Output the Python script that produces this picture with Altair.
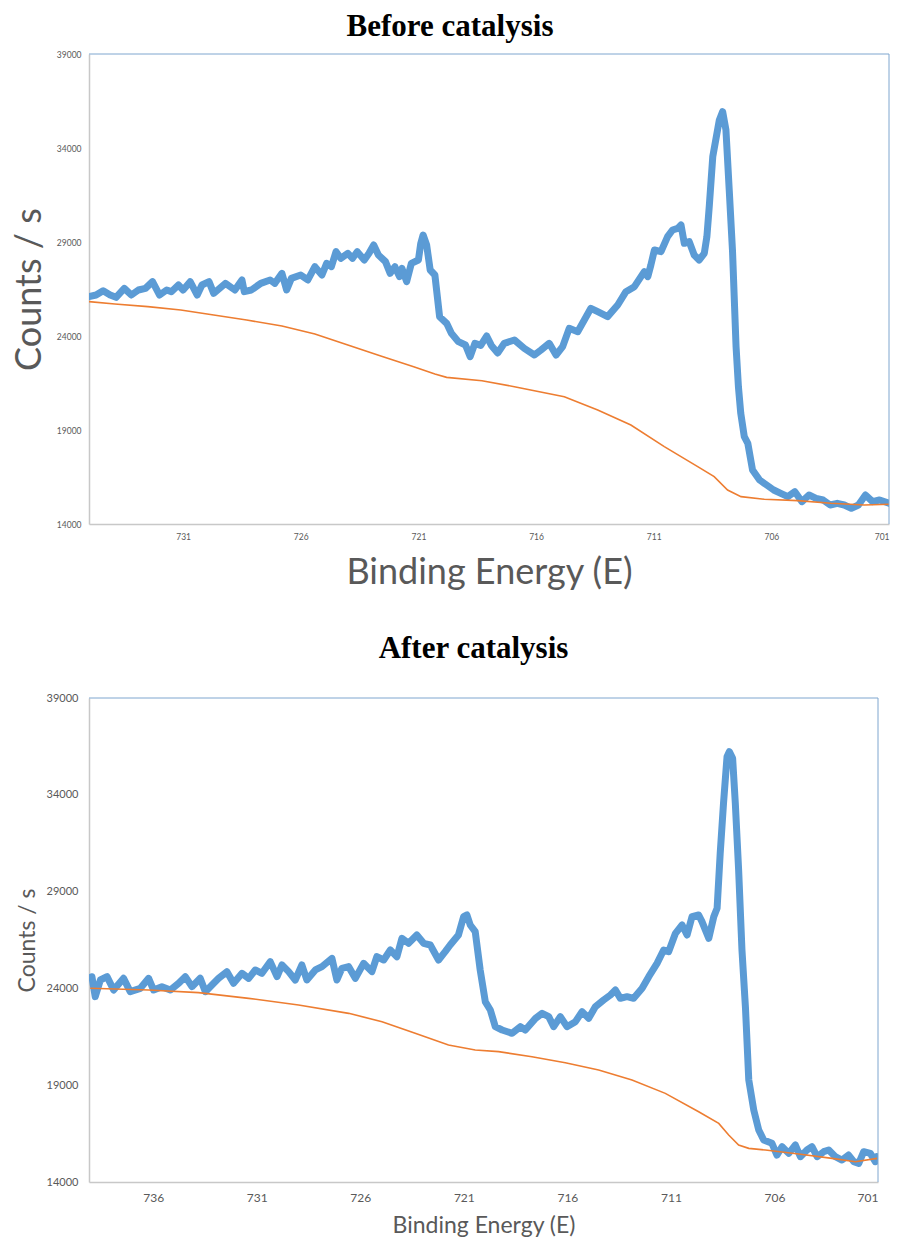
import altair as alt
import pandas as pd

# ---------------- Before catalysis ----------------
before_energy = [735.0, 734.7, 734.4, 734.1, 733.85, 733.5, 733.2, 732.9, 732.6, 732.3,
                 732.0, 731.7, 731.5, 731.2, 731.0, 730.7, 730.4, 730.2, 729.9, 729.7,
                 729.2, 728.8, 728.5, 728.4, 728.1, 727.7, 727.3, 727.1, 726.8, 726.6,
                 726.4, 726.0, 725.7, 725.4, 725.1, 724.9, 724.7, 724.5, 724.3, 724.0,
                 723.8, 723.6, 723.3, 723.1, 722.9, 722.7, 722.4, 722.2, 722.0, 721.8,
                 721.7, 721.5, 721.3, 721.0, 720.9, 720.8, 720.65, 720.5, 720.3, 720.1,
                 719.8, 719.6, 719.3, 719.0, 718.8, 718.6, 718.35, 718.1, 717.9, 717.63,
                 717.35, 716.92, 716.5, 716.07, 715.79, 715.44, 715.15, 714.87, 714.59, 714.23,
                 713.95, 713.67, 713.38, 712.96, 712.53, 712.18, 711.82, 711.4, 711.25, 711.12,
                 710.97, 710.69, 710.41, 710.2, 709.98, 709.84, 709.7, 709.49, 709.28, 709.07,
                 708.85, 708.74, 708.64, 708.49, 708.21, 708.07, 707.93, 707.79, 707.65, 707.5,
                 707.4, 707.3, 707.15, 707.0, 706.8, 706.5, 706.2, 705.9, 705.6, 705.3,
                 705.0, 704.7, 704.4, 704.1, 703.8, 703.5, 703.2, 702.9, 702.6, 702.3,
                 702.0, 701.7, 701.4, 701.0]
before_counts = [26092, 26180, 26410, 26180, 26057, 26535, 26180, 26447, 26535, 26890,
                 26180, 26447, 26358, 26713, 26447, 26890, 26180, 26713, 26890, 26270,
                 26801, 26447, 26980, 26358, 26447, 26801, 26980, 26801, 27333, 26447,
                 27067, 27244, 26980, 27688, 27244, 27865, 27688, 28486, 28131, 28397,
                 28131, 28486, 28042, 28397, 28840, 28308, 27954, 27333, 27688, 27156,
                 27599, 26890, 27865, 28042, 28929, 29372, 28840, 27510, 27244, 25028,
                 24674, 24142, 23699, 23521, 22901, 23610, 23500, 24000, 23500, 23100,
                 23610, 23788, 23344, 22990, 23256, 23610, 22990, 23433, 24408, 24231,
                 24851, 25472, 25295, 25029, 25649, 26359, 26624, 27422, 27156, 27777,
                 28575, 28486, 29284, 29639, 29727, 29905, 28929, 29018, 28309, 28043,
                 28400, 29284, 30880, 33540, 35490, 35933, 34958, 31767, 28500, 23433,
                 21305, 19887, 18646, 18291, 16873, 16341, 16075, 15809, 15632, 15454,
                 15720, 15188, 15543, 15365, 15277, 15011, 15100, 15011, 14834, 15011,
                 15543, 15188, 15277, 15100]
before_bg_energy = [735.0, 733.9, 732.5, 731.1, 729.7, 728.3, 726.8, 725.4, 724.0, 722.6,
                    721.2, 720.3, 719.8, 718.3, 716.92, 714.8, 713.38, 711.97, 710.55, 709.13,
                    708.43, 707.86, 707.29, 706.3, 704.88, 703.47, 702.05, 701.0]
before_bg_counts = [25826, 25702, 25560, 25383, 25117, 24851, 24532, 24106, 23521, 22936,
                    22369, 21979, 21801, 21620, 21305, 20774, 20064, 19266, 18114, 17050,
                    16518, 15809, 15454, 15313, 15242, 15100, 15011, 15050]

# ---------------- After catalysis ----------------
after_energy = [738.96, 738.8, 738.55, 738.23, 737.91, 737.43, 737.11, 736.62, 736.22, 735.98,
                735.58, 735.17, 734.77, 734.45, 734.13, 733.73, 733.48, 733.08, 732.84, 732.44,
                732.12, 731.71, 731.39, 731.07, 730.75, 730.35, 730.02, 729.78, 729.46, 729.14,
                728.82, 728.58, 728.17, 727.85, 727.37, 727.13, 726.89, 726.56, 726.24, 725.84,
                725.44, 725.2, 724.87, 724.55, 724.23, 723.99, 723.67, 723.27, 722.94, 722.62,
                722.22, 721.9, 721.66, 721.26, 721.01, 720.85, 720.69, 720.45, 720.21, 719.96,
                719.72, 719.48, 719.15, 718.67, 718.27, 718.03, 717.54, 717.22, 716.9, 716.66,
                716.34, 716.02, 715.61, 715.29, 714.97, 714.65, 714.25, 713.92, 713.68, 713.44,
                713.12, 712.8, 712.39, 712.07, 711.67, 711.35, 711.11, 710.78, 710.46, 710.22,
                709.98, 709.66, 709.5, 709.17, 708.93, 708.77, 708.62, 708.46, 708.29, 708.18,
                708.02, 707.89, 707.73, 707.57, 707.4, 707.24, 707.0, 706.76, 706.52, 706.12,
                705.88, 705.63, 705.31, 704.99, 704.75, 704.43, 704.19, 703.94, 703.62, 703.38,
                703.06, 702.74, 702.42, 702.17, 701.93, 701.69, 701.37, 701.13, 701.05]
after_counts = [24606, 23573, 24434, 24606, 23917, 24520, 23831, 24003, 24520, 23917,
                24090, 23917, 24262, 24606, 24090, 24520, 23831, 24262, 24520, 24865,
                24262, 24778, 24520, 24951, 24778, 25381, 24606, 25209, 24865, 24434,
                25209, 24434, 24951, 25123, 25553, 24434, 25037, 25123, 24520, 25295,
                24865, 25639, 25467, 25984, 25639, 26586, 26328, 26759, 26328, 26242,
                25467, 25898, 26242, 26759, 27706, 27792, 27275, 26931, 24951, 23300,
                22884, 22023, 21851, 21679, 22023, 21851, 22454, 22712, 22540, 22023,
                22540, 22023, 22282, 22798, 22454, 23056, 23401, 23659, 23917, 23487,
                23573, 23487, 24004, 24606, 25295, 25984, 25898, 26845, 27275, 26759,
                27706, 27792, 27448, 26586, 27706, 28136, 30976, 33559, 35970, 36228,
                35884, 33559, 30115, 26000, 23000, 19268, 17718, 16685, 16168, 15996,
                15393, 15824, 15480, 15910, 15307, 15652, 15824, 15307, 15566, 15652,
                15307, 15135, 15393, 15049, 14963, 15566, 15480, 15049, 15307]
after_bg_energy = [739.04, 736.22, 733.81, 731.39, 728.98, 726.56, 724.95, 723.35, 721.74, 720.45,
                   719.32, 717.71, 716.1, 714.49, 712.88, 711.27, 709.66, 708.69, 708.21, 707.73,
                   707.24, 706.44, 704.83, 703.22, 702.09, 701.05]
after_bg_counts = [24004, 23917, 23780, 23487, 23143, 22712, 22282, 21679, 21077, 20818,
                   20732, 20473, 20164, 19785, 19268, 18579, 17632, 17029, 16427, 15910,
                   15738, 15652, 15445, 15221, 15049, 15221]

before_ticks = [731, 726, 721, 716, 711, 706, 701]
after_ticks = [736, 731, 726, 721, 716, 711, 706, 701]
count_ticks = [14000, 19000, 24000, 29000, 34000, 39000]

BLUE = "#5b9bd5"
ORANGE = "#ed7d31"
GRAY = "#595959"
AXIS_LINE = "#c8c8c8"
BORDER = "#7ea6cf"
FONT = "Lato"


def panel(title, title_size, title_dx, title_offset, e, c, be, bc, emax, ticks, w, h,
          lab_x, lab_y, tit_x, tit_y, ytitle_x, xtitle_y, xlab_pad, ylab_pad):
    sig = pd.DataFrame({"E": e, "C": c})
    bg = pd.DataFrame({"E": be, "C": bc})
    xs = alt.Scale(domain=[701, emax], reverse=True, nice=False, zero=False)
    ys = alt.Scale(domain=[14000, 39000], nice=False, zero=False)
    xax = alt.Axis(values=ticks, format="d", ticks=False, grid=False,
                   domainColor=AXIS_LINE, domainWidth=1.5,
                   labelFont=FONT, labelFontSize=lab_x, labelColor=GRAY, labelPadding=xlab_pad,
                   title="Binding Energy (E)", titleFont=FONT, titleFontSize=tit_x,
                   titleFontWeight="normal", titleColor=GRAY,
                   titleY=xtitle_y, titleBaseline="middle")
    yax = alt.Axis(values=count_ticks, format="d", ticks=False, grid=False,
                   domainColor=AXIS_LINE, domainWidth=1.5,
                   labelFont=FONT, labelFontSize=lab_y, labelColor=GRAY, labelPadding=ylab_pad,
                   title="Counts / s", titleFont=FONT, titleFontSize=tit_y,
                   titleFontWeight="normal", titleColor=GRAY,
                   titleX=ytitle_x, titleY=h / 2, titleAngle=270,
                   titleAlign="center", titleBaseline="middle")
    blue = alt.Chart(sig).mark_line(color=BLUE, strokeWidth=7, clip=True,
                                    strokeJoin="round", strokeCap="round").encode(
        x=alt.X("E:Q", scale=xs, axis=xax),
        y=alt.Y("C:Q", scale=ys, axis=yax),
    )
    orange = alt.Chart(bg).mark_line(color=ORANGE, strokeWidth=1.6, clip=True).encode(
        x=alt.X("E:Q", scale=xs), y=alt.Y("C:Q", scale=ys))
    one = alt.Data(values=[{"k": 1}])
    top_rule = alt.Chart(one).mark_rule(color=BORDER, strokeWidth=1).encode(
        x=alt.value(0), x2=alt.value(w), y=alt.value(0))
    right_rule = alt.Chart(one).mark_rule(color=BORDER, strokeWidth=1).encode(
        x=alt.value(w), y=alt.value(0), y2=alt.value(h))
    return alt.layer(blue, orange, top_rule, right_rule).properties(
        width=w, height=h,
        title=alt.TitleParams(title, font="Liberation Serif", fontSize=title_size,
                              fontWeight="bold", color="black", anchor="middle",
                              dx=title_dx, offset=title_offset),
    )


top = panel("Before catalysis", 31, -39, 7, before_energy, before_counts,
            before_bg_energy, before_bg_counts, 735, before_ticks, 800, 470,
            8.5, 8.5, 36, 36, -60, 48, 8, 8)
bottom = panel("After catalysis", 31, -10, 27, after_energy, after_counts,
               after_bg_energy, after_bg_counts, 739.1, after_ticks, 789, 484,
               12, 11, 23, 23, -62, 43, 10, 11)

chart = alt.vconcat(top, bottom, spacing=43).configure_view(stroke=None).properties(
    padding={"left": 11, "top": 11, "right": 5, "bottom": 5},
    background="white",
)
chart.save("out.html", embed_options={"renderer": "svg", "actions": False})
